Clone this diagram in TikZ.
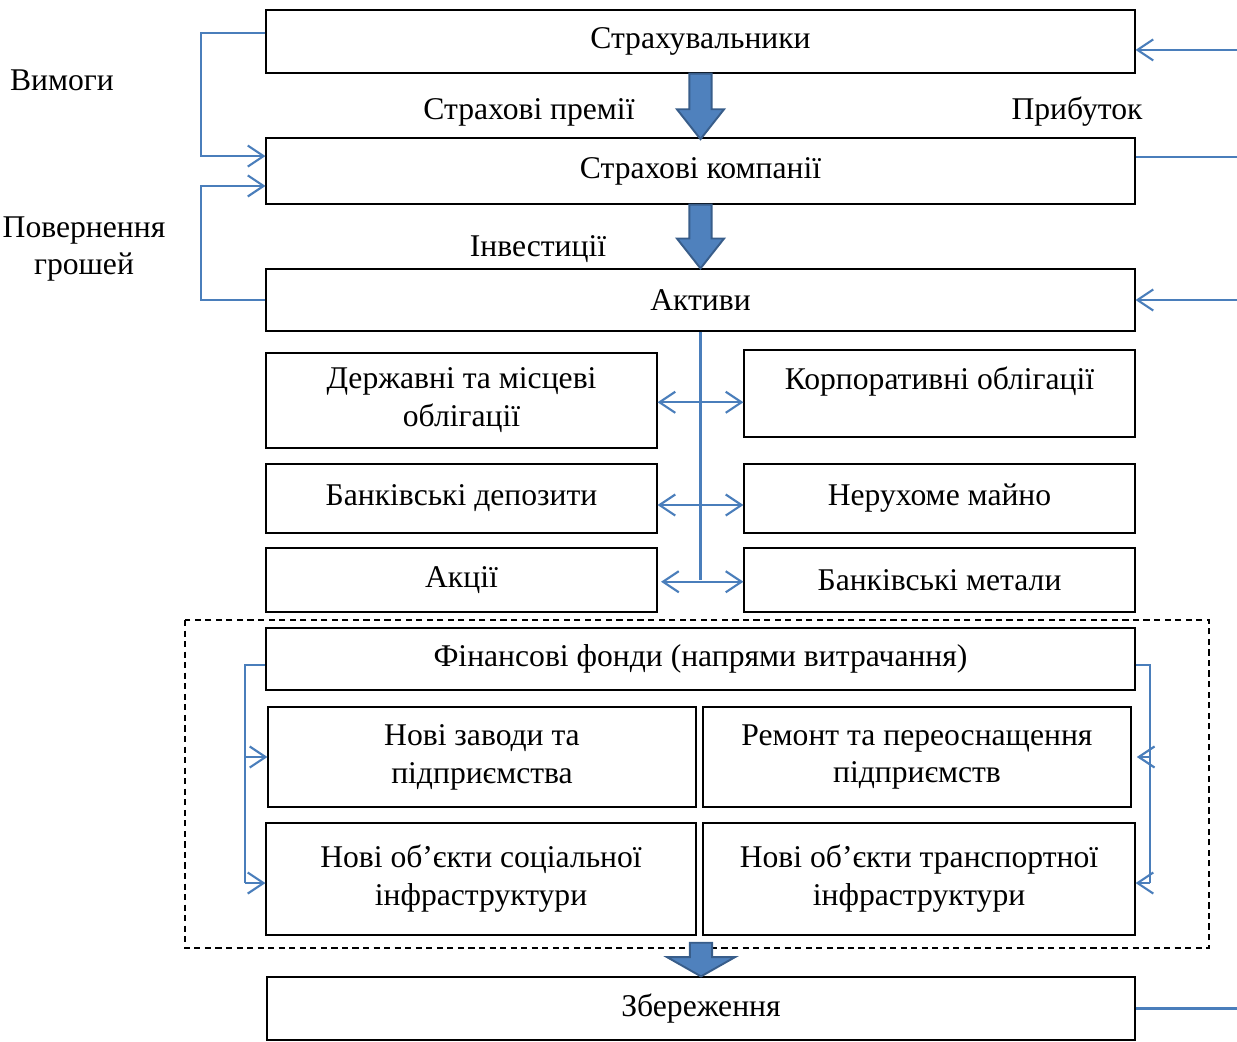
\documentclass[tikz,border=0pt]{standalone}
\usepackage{fontspec}
\setmainfont{Liberation Serif}
\usetikzlibrary{arrows.meta,calc}

\definecolor{lineblue}{HTML}{4A7EBB}
\definecolor{arrfill}{HTML}{4F81BD}
\definecolor{arrdraw}{HTML}{385D8A}

\tikzset{
  box/.style={draw=black, line width=0.7pt, inner sep=2pt, align=center},
  wide/.style={box, minimum width=17.38cm},
  half/.style={box, minimum width=7.82cm},
  conn/.style={draw=lineblue, line width=1.2pt},
  fatarrow/.style={fill=arrfill, draw=arrdraw, line width=1.1pt, line join=miter}
}

% block arrow: tail, tip, half shaft, half head, head length
\newcommand{\fatarr}[5]{%
  \filldraw[fatarrow] let \p1=(#1), \p2=(#2) in
    (\x1-#3,\y1) -- (\x1-#3,\y2+#5) -- (\x1-#4,\y2+#5) -- (\x1,\y2)
    -- (\x1+#4,\y2+#5) -- (\x1+#3,\y2+#5) -- (\x1+#3,\y1) -- cycle;}

\begin{document}
\begin{tikzpicture}[x=0.02cm, y=-0.02cm, font=\fontsize{18}{21.6}\selectfont,
  >={Straight Barb[length=9pt,width=12pt]}]
  \useasboundingbox (0,0) rectangle (1237,1041);

  % main chain
  \node (strah) [wide, minimum height=1.26cm] at (700.5,41.5) {Страхувальники};
  \node (komp) [wide, minimum height=1.32cm] at (700.5,171) {Страхові компанії};
  \node (aktyvy) [wide, minimum height=1.24cm] at (700.5,300) {Активи};

  % assets
  \node (derzh) [half, minimum height=1.9cm] at (461.5,400.5) {Державні та місцеві\\облігації};
  \node (korp) [half, minimum height=1.74cm, text depth=17pt] at (939.5,393.5) {Корпоративні облігації};
  \node (bank) [half, minimum height=1.38cm] at (461.5,498.5) {Банківські депозити};
  \node (nerukh) [half, minimum height=1.38cm] at (939.5,498.5) {Нерухоме майно};
  \node (akcii) [half, minimum height=1.28cm] at (461.5,580) {Акції};
  \node (metaly) [half, minimum height=1.28cm] at (939.5,580) {Банківські метали};

  % funds
  \draw[dashed, dash pattern=on 3.5pt off 2.5pt, line width=0.7pt] (185,620) rectangle (1209,948);
  \node (fin) [wide, minimum height=1.24cm] at (700.5,659) {Фінансові фонди (напрями витрачання)};
  \node (zavody) [box, minimum width=8.56cm, minimum height=2cm] at (482,757) {Нові заводи та\\підприємства};
  \node (remont) [box, minimum width=8.56cm, minimum height=2cm] at (917,757) {Ремонт та переоснащення\\підприємств};
  \node (sotsial) [box, minimum width=8.6cm, minimum height=2.24cm] at (481,879) {Нові об’єкти соціальної\\інфраструктури};
  \node (transp) [box, minimum width=8.64cm, minimum height=2.24cm] at (919,879) {Нові об’єкти транспортної\\інфраструктури};
  \node (zber) [box, minimum width=17.36cm, minimum height=1.26cm] at (701,1008.5) {Збереження};

  % labels
  \node (vymohy) at (62,80) {Вимоги};
  \node (premii) at (529,112) {Страхові премії};
  \node (prybutok) at (1077,112) {Прибуток};
  \node (povern) [align=center] at (84,249) {Повернення\\грошей};
  \node (invest) at (538,249) {Інвестиції};

  % block arrows
  \fatarr{strah.south}{[yshift=-1pt]komp.north}{6.3pt}{13.4pt}{17pt}
  \fatarr{komp.south}{aktyvy.north}{6.3pt}{13.4pt}{17pt}
  \fatarr{[yshift=3pt]zber.north |- 0,948}{zber.north}{6.3pt}{19.4pt}{11pt}

  % left loops
  \coordinate (lx) at (201,0);
  \draw[conn,->] ([yshift=4.8pt]strah.west) -- ([yshift=4.8pt]strah.west -| lx)
    -- ([yshift=8.5pt]komp.west -| lx) -- ([yshift=8.5pt]komp.west);
  \draw[conn,->] (aktyvy.west) -- (aktyvy.west -| lx)
    -- ([yshift=-8.5pt]komp.west -| lx) -- ([yshift=-8.5pt]komp.west);

  % right side
  \coordinate (rx) at (1237,0);
  \draw[conn,->] ([yshift=-4.8pt]strah.east -| rx) -- ([yshift=-4.8pt]strah.east);
  \draw[conn] ([yshift=8pt]komp.east) -- ([yshift=8pt]komp.east -| rx);
  \draw[conn,->] (aktyvy.east -| rx) -- (aktyvy.east);
  \draw[conn] (zber.east) -- (zber.east -| rx);

  % asset spine
  \draw[conn] (aktyvy.south) -- (aktyvy.south |- akcii.east);
  \draw[conn,<->] ([yshift=-1pt]derzh.east) -- ([yshift=-1pt]derzh.east -| korp.west);
  \draw[conn,<->] ([yshift=-3.7pt]bank.east) -- ([yshift=-3.7pt]nerukh.west);
  \draw[conn,<->] ([xshift=2pt,yshift=-1pt]akcii.east) -- ([yshift=-1pt]metaly.west);

  % funds brackets
  \coordinate (fl) at (245,0);
  \coordinate (fr) at (1150,0);
  \draw[conn] ([yshift=-3.4pt]fin.west) -- ([yshift=-3.4pt]fin.west -| fl)
    -- ([yshift=-2.3pt]sotsial.west -| fl);
  \draw[conn,->] (zavody.west -| fl) -- (zavody.west);
  \draw[conn,->] ([yshift=-2.3pt]sotsial.west -| fl) -- ([yshift=-2.3pt]sotsial.west);
  \draw[conn] ([yshift=-3.4pt]fin.east) -- ([yshift=-3.4pt]fin.east -| fr)
    -- ([yshift=-2.3pt]transp.east -| fr);
  \draw[conn,->] (remont.east -| fr) -- ([xshift=3pt]remont.east);
  \draw[conn,->] ([yshift=-2.3pt]transp.east -| fr) -- ([yshift=-2.3pt]transp.east);
\end{tikzpicture}
\end{document}
